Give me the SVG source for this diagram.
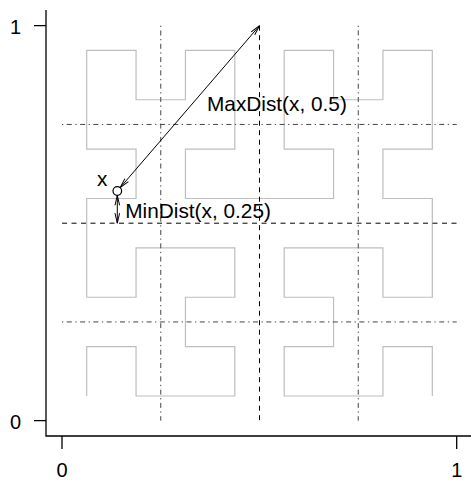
<svg xmlns="http://www.w3.org/2000/svg" width="471" height="481" viewBox="0 0 471 481">
<style>
.axis{stroke:#000;stroke-width:1.3;fill:none}
.curve{stroke:#bebebe;stroke-width:1.2;fill:none}
.dd{stroke:#444;stroke-width:1;stroke-dasharray:1.3 3.5 5 3.5;fill:none}
.dash{stroke:#000;stroke-width:1;stroke-dasharray:5 4.5;fill:none}
.arr{stroke:#000;stroke-width:1;fill:none;marker-start:url(#ah);marker-end:url(#ah)}
text{font-family:"Liberation Sans",Arial,sans-serif;font-size:20.8px;fill:#000}
.lab{font-size:20px}
</style>
<defs>
<marker id="ah" markerUnits="userSpaceOnUse" markerWidth="16" markerHeight="10" viewBox="-13 -5 16 10" refX="0" refY="0" orient="auto-start-reverse" overflow="visible">
<path d="M-10,-2.3 L0,0 L-10,2.3" fill="none" stroke="#000" stroke-width="1"/>
</marker>
</defs>
<rect width="471" height="481" fill="#fff"/>
<g id="axes">
<path class="axis" d="M46,10 V436 H471"/>
<path class="axis" d="M34,25.7 H46 M34,420.7 H46 M62,436 V449 M456.7,436 V449"/>
<text class="lab" x="21" y="34" text-anchor="end">1</text>
<text class="lab" x="21" y="428.5" text-anchor="end">0</text>
<text class="lab" x="62" y="476.5" text-anchor="middle">0</text>
<text class="lab" x="456.7" y="476.5" text-anchor="middle">1</text>
</g>
<g id="hilbert">
<path class="curve" d="M86.69,396.01 V346.64 H136.06 V396.01 H234.81 V346.64 H185.44 V297.26 H234.81 V247.89 H136.06 V297.26 H86.69 V198.51 H136.06 V149.14 H86.69 V50.39 H136.06 V99.76 H185.44 V50.39 H234.81 V149.14 H185.44 V198.51 H333.56 V149.14 H284.19 V50.39 H333.56 V99.76 H382.94 V50.39 H432.31 V149.14 H382.94 V198.51 H432.31 V297.26 H382.94 V247.89 H284.19 V297.26 H333.56 V346.64 H284.19 V396.01 H382.94 V346.64 H432.31 V396.01"/>
</g>
<g id="grid">
<path class="dd" d="M160.75,25.7 V420.7 M358.25,25.7 V420.7 M62,124.45 H456.7 M62,321.95 H456.7"/>
<path class="dash" d="M259.5,25.7 V420.7 M62,223.2 H456.7"/>
</g>
<g id="point">
<circle cx="117.3" cy="191" r="4.3" fill="none" stroke="#000" stroke-width="1.2"/>
<text x="97" y="186">x</text>
</g>
<g id="connectors">
<line class="arr" x1="120.1" y1="187.7" x2="259.5" y2="25.7"/>
<line class="arr" x1="117.3" y1="195.3" x2="117.3" y2="223.2"/>
</g>
<g id="labels">
<text x="207" y="111">MaxDist(x, 0.5)</text>
<text x="125.3" y="217.5">MinDist(x, 0.25)</text>
</g>
</svg>
